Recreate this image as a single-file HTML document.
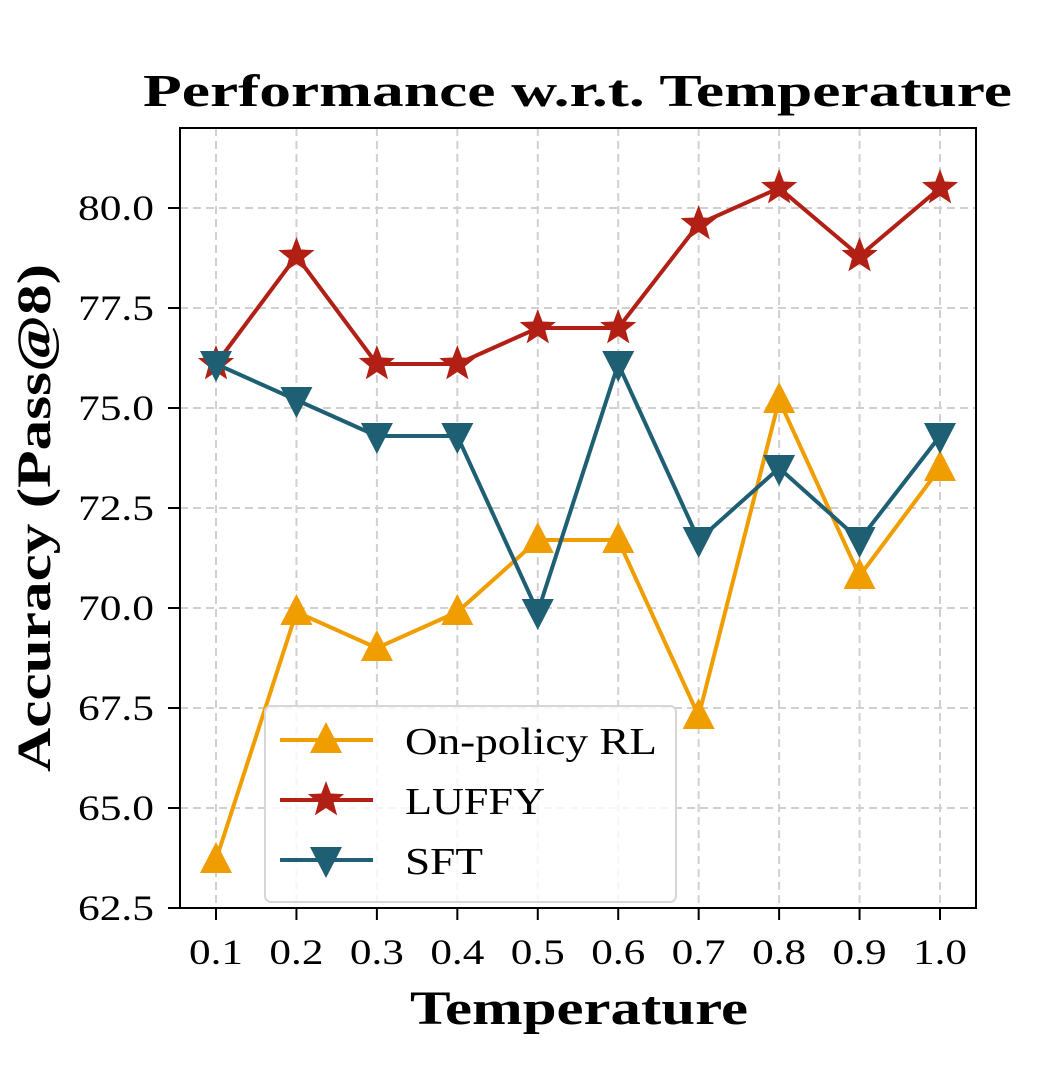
<!DOCTYPE html>
<html><head><meta charset="utf-8">
<style>
html,body{margin:0;padding:0;background:#fff;}
svg{display:block;font-family:"Liberation Serif","DejaVu Serif",serif;}
</style></head>
<body>
<svg id="chart" width="1059" height="1090" viewBox="0 0 1059 1090" xmlns="http://www.w3.org/2000/svg">
<rect x="0" y="0" width="1059" height="1090" fill="#fff"/>
<text x="143" y="106" font-size="46" font-weight="bold" textLength="869" lengthAdjust="spacingAndGlyphs">Performance w.r.t.  Temperature</text>
<g id="grid"></g>
<g id="series"></g>
<rect x="180" y="128" width="796" height="780" fill="none" stroke="#000" stroke-width="2"/>
<g id="ticks"></g>
<text x="410" y="1024" font-size="48" font-weight="bold" textLength="338" lengthAdjust="spacingAndGlyphs">Temperature</text>
<text transform="translate(50,772) rotate(-90)" font-size="48" font-weight="bold" textLength="508" lengthAdjust="spacingAndGlyphs">Accuracy (Pass@8)</text>
<g id="legend"></g>
</svg>
<script>
const categories = [0.1,0.2,0.3,0.4,0.5,0.6,0.7,0.8,0.9,1.0];
const xTickLabels = ["0.1","0.2","0.3","0.4","0.5","0.6","0.7","0.8","0.9","1.0"];
const yTicks = [62.5,65.0,67.5,70.0,72.5,75.0,77.5,80.0];
const yTickLabels = ["62.5","65.0","67.5","70.0","72.5","75.0","77.5","80.0"];
const onPolicy = [63.7,69.9,69.0,69.9,71.7,71.7,67.3,75.2,70.8,73.5];
const luffy = [76.1,78.8,76.1,76.1,77.0,77.0,79.6,80.5,78.8,80.5];
const sft = [76.1,75.2,74.3,74.3,69.9,76.1,71.7,73.5,71.7,74.3];
const seriesNames = ["On-policy RL","LUFFY","SFT"];
const legendWidths = [252,140,78];

const NS="http://www.w3.org/2000/svg";
function X(v){return 216+(v-0.1)*(940-216)/0.9;}
function Y(v){return 908-(v-62.5)*40;}
function mk(tag,attrs,parent){const e=document.createElementNS(NS,tag);for(const k in attrs)e.setAttribute(k,attrs[k]);parent.appendChild(e);return e;}
const grid=document.getElementById('grid'),ticks=document.getElementById('ticks'),ser=document.getElementById('series'),leg=document.getElementById('legend');

categories.forEach((c,i)=>{
  const g=mk('line',{x1:X(c),x2:X(c),y1:128,y2:908,stroke:'#d0d0d0','stroke-width':2,'stroke-dasharray':'8,5'},grid);
  
  
  const t=mk('line',{x1:X(c),x2:X(c),y1:908,y2:920,stroke:'#000','stroke-width':2},ticks);
  
  
  const l=mk('text',{x:X(c)-27,y:964,'font-size':36,textLength:54,lengthAdjust:'spacingAndGlyphs'},ticks);
  l.textContent=xTickLabels[i];
  
  
});
yTicks.forEach((v,i)=>{
  const g=mk('line',{x1:180,x2:976,y1:Y(v),y2:Y(v),stroke:'#d0d0d0','stroke-width':2,'stroke-dasharray':'8,5'},grid);
  
  
  const t=mk('line',{x1:168,x2:180,y1:Y(v),y2:Y(v),stroke:'#000','stroke-width':2},ticks);
  
  
  const l=mk('text',{x:78,y:Y(v)+12,'font-size':36,textLength:76,lengthAdjust:'spacingAndGlyphs'},ticks);
  l.textContent=yTickLabels[i];
  
  
});

function marker(type,cx,cy,color,parent){
  let pts;
  if(type==='up'){pts=[[cx,cy-18],[cx+16,cy+13],[cx-16,cy+13]];}
  else if(type==='down'){pts=[[cx,cy+18],[cx+16,cy-13],[cx-16,cy-13]];}
  else{pts=[];for(let k=0;k<10;k++){const r=k%2?8:19;const a=-Math.PI/2+k*Math.PI/5;pts.push([cx+r*Math.cos(a),cy+r*Math.sin(a)]);}}
  return mk('polygon',{points:pts.map(p=>p.join(',')).join(' '),fill:color},parent);
}
const defs=[[onPolicy,'#F09D00','up','on-policy-rl'],[luffy,'#B22015','star','luffy'],[sft,'#1F5F73','down','sft']];
defs.forEach(([vals,color,type,name])=>{
  const g=mk('g',{},ser);
  
  
  const p=mk('polyline',{points:vals.map((v,i)=>X(categories[i])+','+Y(v)).join(' '),fill:'none',stroke:color,'stroke-width':4},g);
  
  
  vals.forEach((v,i)=>{
    const m=marker(type,X(categories[i]),Y(v),color,g);
    
    
  });
});

const box=mk('rect',{x:265,y:706,width:411,height:196,rx:6,fill:'rgba(255,255,255,0.8)',stroke:'#d6d6d6','stroke-width':2},leg);


defs.forEach(([vals,color,type,name],i)=>{
  const cy=740+i*60;
  const g=mk('g',{},leg);
  
  
  mk('line',{x1:280,x2:373,y1:cy,y2:cy,stroke:color,'stroke-width':4},g);
  marker(type,326,cy,color,g);
  const t=mk('text',{x:405,y:cy+14,'font-size':38,textLength:legendWidths[i],lengthAdjust:'spacingAndGlyphs'},g);
  t.textContent=seriesNames[i];
});
</script>
</body></html>
